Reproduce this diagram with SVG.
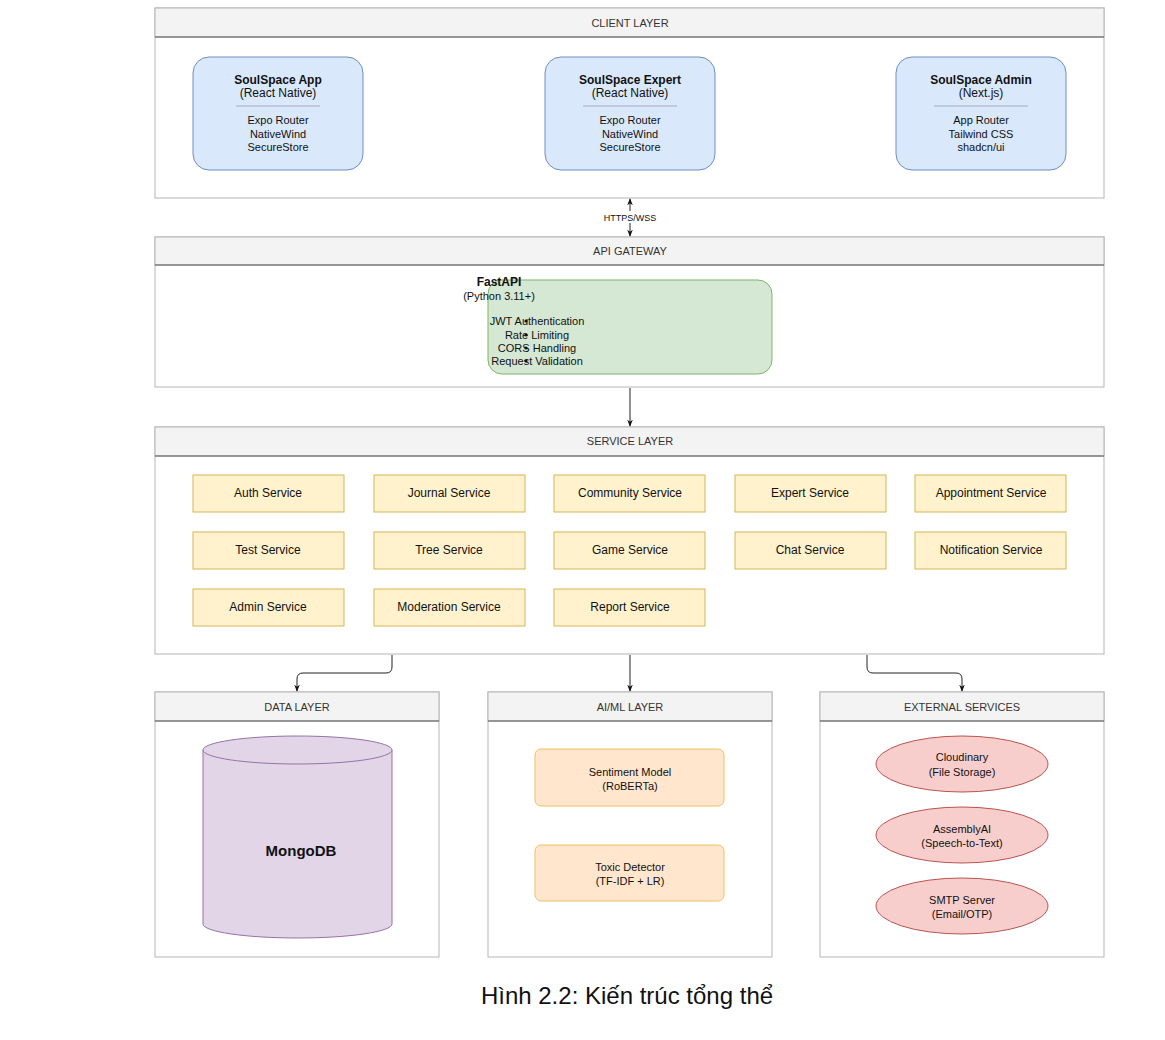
<svg xmlns="http://www.w3.org/2000/svg" width="1165" height="1040" viewBox="0 0 1165 1040">
<style>
text{font-family:"Liberation Sans",Arial,sans-serif;fill:#111;text-anchor:middle}
.lay{fill:#fff;stroke:#b5b5b5;stroke-width:1}
.hd{fill:#f3f3f3;stroke:#b5b5b5}
.hl{stroke:#555;stroke-width:1}
.ht{font-size:11px;fill:#333}
.cl{fill:#dae8fc;stroke:#6c8ebf}
.sv{fill:#fff2cc;stroke:#d6b656}
.st{font-size:12px}
.ai{fill:#ffe6cc;stroke:#f0c060}
.ex{fill:#f8cecc;stroke:#b85450}
.t{font-size:11px}
.c{fill:none;stroke:#222;stroke-width:1}
</style>
<defs><marker id="a" viewBox="0 0 10 10" refX="9" refY="5" markerWidth="7" markerHeight="7" orient="auto-start-reverse"><path d="M0,1 L10,5 L0,9 L3,5 Z" fill="#111"/></marker></defs>

<g id="client-layer">
<rect class="lay" x="155" y="8" width="949" height="190"/>
<rect class="hd" x="155" y="8" width="949" height="29"/><line class="hl" x1="155" y1="37" x2="1104" y2="37"/>
<text class="ht" x="630" y="27">CLIENT LAYER</text>
</g>
<g id="app"><rect class="cl" x="193" y="57" width="170" height="113" rx="16"/>
<text x="278" y="84" font-size="12" font-weight="bold">SoulSpace App</text><text x="278" y="97" font-size="12">(React Native)</text>
<line x1="236" y1="106" x2="320" y2="106" stroke="#aab"/>
<text x="278" y="124" font-size="11">Expo Router</text><text x="278" y="138" font-size="11">NativeWind</text><text x="278" y="151" font-size="11">SecureStore</text></g>
<g id="expert"><rect class="cl" x="545" y="57" width="170" height="113" rx="16"/>
<text x="630" y="84" font-size="12" font-weight="bold">SoulSpace Expert</text><text x="630" y="97" font-size="12">(React Native)</text>
<line x1="583" y1="106" x2="677" y2="106" stroke="#aab"/>
<text x="630" y="124" font-size="11">Expo Router</text><text x="630" y="138" font-size="11">NativeWind</text><text x="630" y="151" font-size="11">SecureStore</text></g>
<g id="admin"><rect class="cl" x="896" y="57" width="170" height="113" rx="16"/>
<text x="981" y="84" font-size="12" font-weight="bold">SoulSpace Admin</text><text x="981" y="97" font-size="12">(Next.js)</text>
<line x1="934" y1="106" x2="1028" y2="106" stroke="#aab"/>
<text x="981" y="124" font-size="11">App Router</text><text x="981" y="138" font-size="11">Tailwind CSS</text><text x="981" y="151" font-size="11">shadcn/ui</text></g>

<g id="api-layer">
<rect class="lay" x="155" y="237" width="949" height="150"/>
<rect class="hd" x="155" y="237" width="949" height="28"/><line class="hl" x1="155" y1="265" x2="1104" y2="265"/>
<text class="ht" x="630" y="255">API GATEWAY</text>
</g>
<g id="fastapi"><rect x="488" y="280" width="284" height="94" rx="14" fill="#d5e8d4" stroke="#82b366"/>
<text x="499" y="286" font-size="12" font-weight="bold" text-anchor="start">FastAPI</text>
<text x="499" y="300" font-size="11" text-anchor="start">(Python 3.11+)</text>
<g font-size="11"><circle cx="526" cy="321" r="1.6" fill="#111"/><text x="537" y="325" text-anchor="start">JWT Authentication</text>
<circle cx="526" cy="335" r="1.6" fill="#111"/><text x="537" y="339" text-anchor="start">Rate Limiting</text>
<circle cx="526" cy="348" r="1.6" fill="#111"/><text x="537" y="352" text-anchor="start">CORS Handling</text>
<circle cx="526" cy="361" r="1.6" fill="#111"/><text x="537" y="365" text-anchor="start">Request Validation</text></g></g>

<g id="service-layer">
<rect class="lay" x="155" y="427" width="949" height="227"/>
<rect class="hd" x="155" y="427" width="949" height="29"/><line class="hl" x1="155" y1="456" x2="1104" y2="456"/>
<text class="ht" x="630" y="445">SERVICE LAYER</text>
</g>
<g id="auth"><rect class="sv" x="193" y="475" width="151" height="37"/><text class="st" x="268" y="497">Auth Service</text></g>
<g id="journal"><rect class="sv" x="374" y="475" width="151" height="37"/><text class="st" x="449" y="497">Journal Service</text></g>
<g id="community"><rect class="sv" x="554" y="475" width="151" height="37"/><text class="st" x="630" y="497">Community Service</text></g>
<g id="expertsvc"><rect class="sv" x="735" y="475" width="151" height="37"/><text class="st" x="810" y="497">Expert Service</text></g>
<g id="appointment"><rect class="sv" x="915" y="475" width="151" height="37"/><text class="st" x="991" y="497">Appointment Service</text></g>
<g id="test"><rect class="sv" x="193" y="532" width="151" height="37"/><text class="st" x="268" y="554">Test Service</text></g>
<g id="tree"><rect class="sv" x="374" y="532" width="151" height="37"/><text class="st" x="449" y="554">Tree Service</text></g>
<g id="game"><rect class="sv" x="554" y="532" width="151" height="37"/><text class="st" x="630" y="554">Game Service</text></g>
<g id="chat"><rect class="sv" x="735" y="532" width="151" height="37"/><text class="st" x="810" y="554">Chat Service</text></g>
<g id="notification"><rect class="sv" x="915" y="532" width="151" height="37"/><text class="st" x="991" y="554">Notification Service</text></g>
<g id="adminsvc"><rect class="sv" x="193" y="589" width="151" height="37"/><text class="st" x="268" y="611">Admin Service</text></g>
<g id="moderation"><rect class="sv" x="374" y="589" width="151" height="37"/><text class="st" x="449" y="611">Moderation Service</text></g>
<g id="report"><rect class="sv" x="554" y="589" width="151" height="37"/><text class="st" x="630" y="611">Report Service</text></g>

<g id="data-layer">
<rect class="lay" x="155" y="692" width="284" height="265"/>
<rect class="hd" x="155" y="692" width="284" height="29"/><line class="hl" x1="155" y1="721" x2="439" y2="721"/>
<text class="ht" x="297" y="711">DATA LAYER</text>
</g>
<g id="mongodb">
<path d="M203,750 L203,924 A94.5,14 0 0 0 392,924 L392,750" fill="#e1d5e7" stroke="#9673a6"/>
<ellipse cx="297.5" cy="750" rx="94.5" ry="14" fill="#e1d5e7" stroke="#9673a6"/>
<text x="301" y="856" font-size="15" font-weight="bold">MongoDB</text></g>

<g id="ai-layer">
<rect class="lay" x="488" y="692" width="284" height="265"/>
<rect class="hd" x="488" y="692" width="284" height="29"/><line class="hl" x1="488" y1="721" x2="772" y2="721"/>
<text class="ht" x="630" y="711">AI/ML LAYER</text>
</g>
<g id="sentiment"><rect class="ai" x="535" y="749" width="189" height="57" rx="6"/><text class="t" x="630" y="776">Sentiment Model</text><text class="t" x="630" y="790">(RoBERTa)</text></g>
<g id="toxic"><rect class="ai" x="535" y="845" width="189" height="56" rx="6"/><text class="t" x="630" y="871">Toxic Detector</text><text class="t" x="630" y="885">(TF-IDF + LR)</text></g>

<g id="external-layer">
<rect class="lay" x="820" y="692" width="284" height="265"/>
<rect class="hd" x="820" y="692" width="284" height="29"/><line class="hl" x1="820" y1="721" x2="1104" y2="721"/>
<text class="ht" x="962" y="711">EXTERNAL SERVICES</text>
</g>
<g id="cloudinary"><ellipse class="ex" cx="962" cy="764" rx="86" ry="28"/><text class="t" x="962" y="761">Cloudinary</text><text class="t" x="962" y="776">(File Storage)</text></g>
<g id="assembly"><ellipse class="ex" cx="962" cy="835" rx="86" ry="28"/><text class="t" x="962" y="833">AssemblyAI</text><text class="t" x="962" y="847">(Speech-to-Text)</text></g>
<g id="smtp"><ellipse class="ex" cx="962" cy="906" rx="86" ry="28"/><text class="t" x="962" y="904">SMTP Server</text><text class="t" x="962" y="918">(Email/OTP)</text></g>

<g id="connectors">
<line class="c" x1="630" y1="199" x2="630" y2="236" marker-start="url(#a)" marker-end="url(#a)"/>
<rect x="598" y="211" width="64" height="12" fill="#fff"/>
<text x="630" y="221" font-size="9">HTTPS/WSS</text>
<line class="c" x1="630" y1="388" x2="630" y2="426" marker-end="url(#a)"/>
<path class="c" d="M392,655 L392,667 Q392,673 386,673 L303,673 Q297,673 297,679 L297,691" marker-end="url(#a)"/>
<line class="c" x1="630" y1="655" x2="630" y2="691" marker-end="url(#a)"/>
<path class="c" d="M867,655 L867,667 Q867,673 873,673 L956,673 Q962,673 962,679 L962,691" marker-end="url(#a)"/>
</g>
<text x="627" y="1004" font-family="Liberation Serif,serif" font-size="24">Hình 2.2: Kiến trúc tổng thể</text>
</svg>
